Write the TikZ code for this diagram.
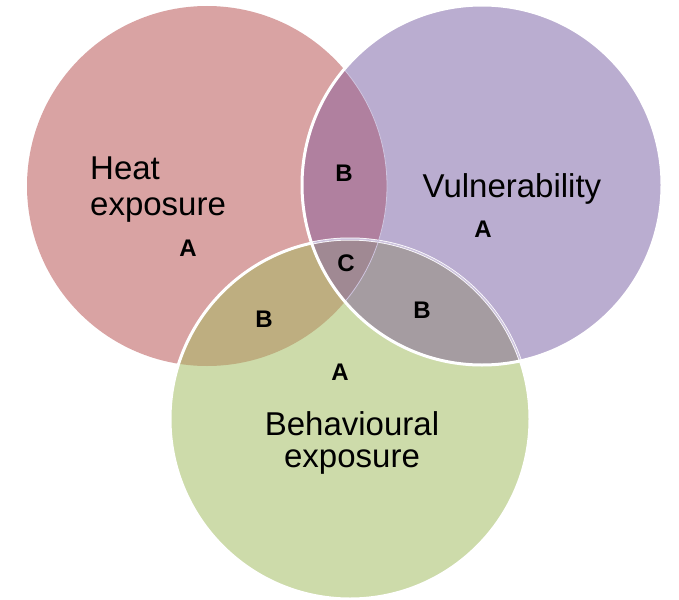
\documentclass[tikz,border=0pt]{standalone}
\usepackage{fontspec}
\setmainfont{Liberation Sans}
\definecolor{HeatFill}{HTML}{D9A3A3}
\definecolor{VulnFill}{HTML}{BAADD0}
\definecolor{BehavFill}{HTML}{CDDBAA}
\definecolor{HeatVulnFill}{HTML}{B0809F}
\definecolor{HeatBehavFill}{HTML}{BEAE80}
\definecolor{VulnBehavFill}{HTML}{A59CA1}
\definecolor{AllFill}{HTML}{A08993}
\definecolor{FaintLine}{HTML}{CFC5DF}
\begin{document}
\begin{tikzpicture}[x=1pt,y=-1pt]
  \tikzset{TitleStyle/.style = {inner sep = 0pt,
                                text      = black,
                                font      = \fontsize{33}{36}\selectfont}}
  \tikzset{ZoneStyle/.style  = {inner sep = 0pt,
                                text      = black,
                                font      = \fontsize{24}{26}\selectfont\bfseries}}
  \tikzset{RimStyle/.style   = {white,
                                line width = 3pt}}

\useasboundingbox (0,0) rectangle (679,599);

\coordinate (H) at (207,186);
\coordinate (V) at (482,185);
\coordinate (E) at (350,419);

\fill[HeatFill] (H) circle (180pt);
\fill[BehavFill] (E) circle (180pt);
\fill[VulnFill] (V) circle (180pt);
\begin{scope}
  \clip (H) circle (180pt);
  \fill[HeatVulnFill] (V) circle (180pt);
  \fill[HeatBehavFill] (E) circle (180pt);
\end{scope}
\begin{scope}
  \clip (V) circle (180pt);
  \fill[VulnBehavFill] (E) circle (180pt);
  \clip (H) circle (180pt);
  \fill[AllFill] (E) circle (180pt);
\end{scope}

\draw[RimStyle] (E) circle (180pt);
\begin{scope}
  \clip (V) circle (180pt);
  \draw[FaintLine, line width=1.5pt] (E) circle (180pt);
  \draw[FaintLine, line width=0.8pt] (H) circle (180pt);
\end{scope}
\draw[RimStyle] (V) circle (180pt);

\node[TitleStyle, align=left, anchor=base west] (heat) at (90,215) {Heat\\exposure};
\node[TitleStyle, anchor=base] (vuln) at (512,197) {Vulnerability};
\node[TitleStyle, align=center, anchor=base, font=\fontsize{33}{32}\selectfont] (behav) at (352,467) {Behavioural\\exposure};

\draw (188,248)  node[ZoneStyle] (heatA)  {A};
\draw (483,229)  node[ZoneStyle] (vulnA)  {A};
\draw (340,372)  node[ZoneStyle] (behavA) {A};
\draw (344,173)  node[ZoneStyle] (hvB)    {B};
\draw (264,319)  node[ZoneStyle] (hbB)    {B};
\draw (422,310)  node[ZoneStyle] (vbB)    {B};
\draw (346,263)  node[ZoneStyle] (allC)   {C};

\end{tikzpicture}
\end{document}
